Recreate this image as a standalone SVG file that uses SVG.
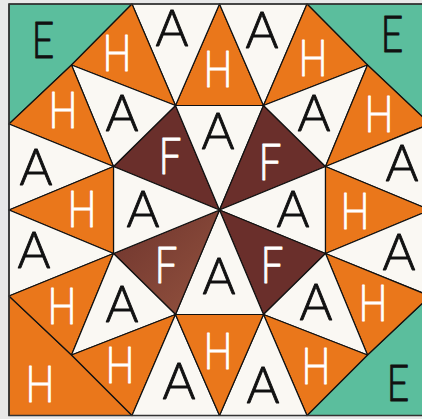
<svg xmlns="http://www.w3.org/2000/svg" width="422" height="419" viewBox="0 0 422 419">
<defs>
<style>
.p{stroke:#111;stroke-width:1.2;stroke-linejoin:round}
.A{fill:#faf8f3}
.H{fill:#ea771b}
.F{fill:#6a2f2b}
.E{fill:#5bbe9d}
text{font-family:Lato,"Liberation Sans",sans-serif;font-weight:300;font-size:52px;text-anchor:middle;stroke-width:0.9;stroke-linejoin:round}
.tA,.tE{fill:#111;stroke:#111}
.tH,.tF{fill:#fff;stroke:#fff}
</style>
<linearGradient id="fbl" x1="0" y1="0" x2="1" y2="1">
<stop offset="0" stop-color="#6e342d"/>
<stop offset="1" stop-color="#94533f"/>
</linearGradient>
</defs>
<rect width="422" height="419" fill="#e8e8e8"/>
<rect x="9" y="4" width="421" height="411.5" fill="#faf8f3"/>
<g id="corners">
<g id="eTL"><polygon class="p E" points="9,4 132,4 71.5,65 9,124"/><text class="tE" x="43" y="57.5" textLength="23" lengthAdjust="spacingAndGlyphs">E</text></g>
<g id="eTR"><polygon class="p E" points="430,4 307,4 367.5,65 430,124"/><text class="tE" x="392" y="51.5" textLength="23" lengthAdjust="spacingAndGlyphs">E</text></g>
<g id="eBR"><polygon class="p E" points="430,415.5 430,296 367.5,355 307,415.5"/><text class="tE" x="398" y="400.5" textLength="23" lengthAdjust="spacingAndGlyphs">E</text></g>
<g id="hBL"><polygon class="p H" points="9,415.5 9,296 71.5,355 132,415.5"/><text class="tH" x="40" y="401.5" textLength="29" lengthAdjust="spacingAndGlyphs">H</text></g>
</g>
<g id="center">
<g id="f1"><polygon class="p F" points="219.5,210 175.5,105.5 113.5,166.5"/><text class="tF" x="170" y="173.5" textLength="23" lengthAdjust="spacingAndGlyphs">F</text></g>
<g id="a1"><polygon class="p A" points="219.5,210 175.5,105.5 263.5,105.5"/><text class="tA" x="218" y="148.5" textLength="33" lengthAdjust="spacingAndGlyphs">A</text></g>
<g id="f2"><polygon class="p F" points="219.5,210 263.5,105.5 325.5,166.5"/><text class="tF" x="270" y="179.5" textLength="23" lengthAdjust="spacingAndGlyphs">F</text></g>
<g id="a2"><polygon class="p A" points="219.5,210 325.5,166.5 325.5,253.5"/><text class="tA" x="293" y="226.5" textLength="33" lengthAdjust="spacingAndGlyphs">A</text></g>
<g id="f3"><polygon class="p F" points="219.5,210 325.5,253.5 263.5,314.5"/><text class="tF" x="272" y="282.5" textLength="23" lengthAdjust="spacingAndGlyphs">F</text></g>
<g id="a3"><polygon class="p A" points="219.5,210 263.5,314.5 175.5,314.5"/><text class="tA" x="219" y="293.5" textLength="33" lengthAdjust="spacingAndGlyphs">A</text></g>
<g id="f4"><polygon class="p" fill="url(#fbl)" points="219.5,210 175.5,314.5 113.5,253.5"/><text class="tF" x="166" y="282.5" textLength="23" lengthAdjust="spacingAndGlyphs">F</text></g>
<g id="a4"><polygon class="p A" points="219.5,210 113.5,253.5 113.5,166.5"/><text class="tA" x="143" y="226.5" textLength="33" lengthAdjust="spacingAndGlyphs">A</text></g>
</g>
<g id="ring">
<g id="h1"><polygon class="p H" points="219.5,4 175.5,105.5 263.5,105.5"/><text class="tH" x="218" y="86.5" textLength="29" lengthAdjust="spacingAndGlyphs">H</text></g>
<g id="a5"><polygon class="p A" points="132,4 219.5,4 175.5,105.5"/><text class="tA" x="172" y="46" textLength="33" lengthAdjust="spacingAndGlyphs">A</text></g>
<g id="a6"><polygon class="p A" points="219.5,4 307,4 263.5,105.5"/><text class="tA" x="262" y="47.5" textLength="33" lengthAdjust="spacingAndGlyphs">A</text></g>
<g id="h2"><polygon class="p H" points="71.5,65 132,4 175.5,105.5"/><text class="tH" x="117" y="70.5" textLength="29" lengthAdjust="spacingAndGlyphs">H</text></g>
<g id="h3"><polygon class="p H" points="307,4 367.5,65 263.5,105.5"/><text class="tH" x="313" y="75.5" textLength="29" lengthAdjust="spacingAndGlyphs">H</text></g>
<g id="a7"><polygon class="p A" points="71.5,65 175.5,105.5 113.5,166.5"/><text class="tA" x="122" y="130.5" textLength="33" lengthAdjust="spacingAndGlyphs">A</text></g>
<g id="a8"><polygon class="p A" points="367.5,65 263.5,105.5 325.5,166.5"/><text class="tA" x="314" y="130.5" textLength="33" lengthAdjust="spacingAndGlyphs">A</text></g>
<g id="h4"><polygon class="p H" points="9,124 71.5,65 113.5,166.5"/><text class="tH" x="63" y="127.5" textLength="29" lengthAdjust="spacingAndGlyphs">H</text></g>
<g id="h5"><polygon class="p H" points="367.5,65 430,124 325.5,166.5"/><text class="tH" x="379" y="131.5" textLength="29" lengthAdjust="spacingAndGlyphs">H</text></g>
<g id="a9"><polygon class="p A" points="9,210 9,124 113.5,166.5"/><text class="tA" x="36" y="184.5" textLength="33" lengthAdjust="spacingAndGlyphs">A</text></g>
<g id="a10"><polygon class="p A" points="430,124 430,210 325.5,166.5"/><text class="tA" x="402" y="180.5" textLength="33" lengthAdjust="spacingAndGlyphs">A</text></g>
<g id="h6"><polygon class="p H" points="9,210 113.5,166.5 113.5,253.5"/><text class="tH" x="82" y="226.5" textLength="29" lengthAdjust="spacingAndGlyphs">H</text></g>
<g id="h7"><polygon class="p H" points="430,210 325.5,166.5 325.5,253.5"/><text class="tH" x="355" y="228.5" textLength="29" lengthAdjust="spacingAndGlyphs">H</text></g>
<g id="a11"><polygon class="p A" points="9,210 9,296 113.5,253.5"/><text class="tA" x="34" y="267.5" textLength="33" lengthAdjust="spacingAndGlyphs">A</text></g>
<g id="a12"><polygon class="p A" points="430,210 430,296 325.5,253.5"/><text class="tA" x="399" y="269.5" textLength="33" lengthAdjust="spacingAndGlyphs">A</text></g>
<g id="h8"><polygon class="p H" points="9,296 71.5,355 113.5,253.5"/><text class="tH" x="62" y="323.5" textLength="29" lengthAdjust="spacingAndGlyphs">H</text></g>
<g id="h9"><polygon class="p H" points="430,296 367.5,355 325.5,253.5"/><text class="tH" x="373" y="320.5" textLength="29" lengthAdjust="spacingAndGlyphs">H</text></g>
<g id="a13"><polygon class="p A" points="71.5,355 113.5,253.5 175.5,314.5"/><text class="tA" x="122" y="321.5" textLength="33" lengthAdjust="spacingAndGlyphs">A</text></g>
<g id="a14"><polygon class="p A" points="367.5,355 325.5,253.5 263.5,314.5"/><text class="tA" x="316" y="319.5" textLength="33" lengthAdjust="spacingAndGlyphs">A</text></g>
<g id="h10"><polygon class="p H" points="71.5,355 132,415.5 175.5,314.5"/><text class="tH" x="120" y="382.5" textLength="29" lengthAdjust="spacingAndGlyphs">H</text></g>
<g id="h11"><polygon class="p H" points="367.5,355 307,415.5 263.5,314.5"/><text class="tH" x="316" y="383.5" textLength="29" lengthAdjust="spacingAndGlyphs">H</text></g>
<g id="a15"><polygon class="p A" points="132,415.5 219.5,415.5 175.5,314.5"/><text class="tA" x="179" y="398.5" textLength="33" lengthAdjust="spacingAndGlyphs">A</text></g>
<g id="a16"><polygon class="p A" points="219.5,415.5 307,415.5 263.5,314.5"/><text class="tA" x="263" y="402.5" textLength="33" lengthAdjust="spacingAndGlyphs">A</text></g>
<g id="h12"><polygon class="p H" points="219.5,415.5 175.5,314.5 263.5,314.5"/><text class="tH" x="218" y="368.5" textLength="29" lengthAdjust="spacingAndGlyphs">H</text></g>
</g>
<rect x="9" y="4" width="425" height="411.5" fill="none" stroke="#333" stroke-width="1.5"/>
</svg>
